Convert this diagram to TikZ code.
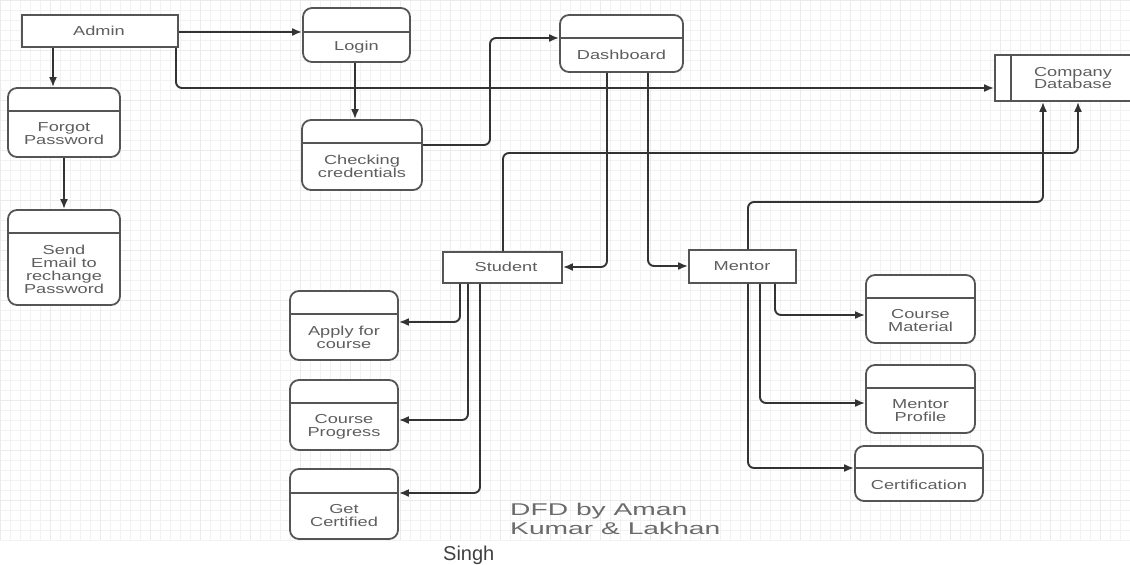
\documentclass[tikz,border=0pt]{standalone}
\usepackage{fontspec}
\setmainfont{Liberation Sans}
\newfontfamily\widefont[FakeStretch=1.4]{Liberation Sans}
\newfontfamily\capfont[FakeStretch=1.66]{Liberation Sans}
\usetikzlibrary{arrows.meta}
\definecolor{linec}{HTML}{333333}
\definecolor{boxc}{HTML}{555555}
\definecolor{txtc}{HTML}{5E5E5E}
\tikzset{
  x=1pt, y=-1pt,
  flow/.style={draw=linec, line width=1.9pt, rounded corners=6pt, -{Latex[length=10pt,width=8pt]}},
  entity/.style={draw=boxc, line width=1.8pt, fill=white, inner sep=0pt},
  proc/.style={draw=boxc, line width=1.8pt, fill=white, rounded corners=9pt, inner sep=0pt},
  lbl/.style={text=txtc, font=\widefont\fontsize{13}{13}\selectfont, align=center, inner sep=0pt},
}
\begin{document}
\begin{tikzpicture}
\useasboundingbox (0,0) rectangle (1130,565);
\fill[white] (0,0) rectangle (1130,565);
\clip (0,0) rectangle (1130,565);
% grid
\draw[black!5, line width=0.5pt, step=10pt] (0,0) grid (1130,540);
\draw[black!8, line width=0.6pt, step=50pt] (0,0) grid (1130,540);

% entities
\node[entity, minimum width=156, minimum height=32] (admin) at (100,31) {};
\node[lbl] (adminT) at (99,31) {Admin};
\node[entity, minimum width=119, minimum height=31] (student) at (502.5,267.5) {};
\node[lbl] (studentT) at (506,267) {Student};
\node[entity, minimum width=107, minimum height=33] (mentor) at (742.5,266.5) {};
\node[lbl] (mentorT) at (742,266) {Mentor};

% data store
\node[entity, minimum width=139, minimum height=46] (db) at (1064.5,78) {};
\draw[boxc, line width=1.8pt] (1011,55) -- (1011,101);
\node[lbl] (dbT) at (1073,78) {Company\\[-1pt]Database};

% processes: box + divider + text
\newcommand{\procbox}[7]{% name, x1, y1, x2, y2, divider y, text
  \node[proc, minimum width={#4-#2}, minimum height={#5-#3}] (#1) at ({(#2+#4)/2},{(#3+#5)/2}) {};
  \draw[boxc, line width=1.6pt] (#2,#6) -- (#4,#6);
  \node[lbl] (#1T) at ({(#2+#4)/2},{(#6+#5)/2}) {#7};
}
\procbox{login}{303}{8}{410}{62}{32}{Login}
\procbox{forgot}{8}{88}{120}{157}{111}{Forgot\\Password}
\procbox{sendmail}{8}{210}{120}{305}{233}{Send\\Email to\\rechange\\Password}
\procbox{check}{302}{120}{422}{190}{143}{Checking\\credentials}
\procbox{dash}{560}{15}{683}{72}{38}{Dashboard}
\procbox{apply}{290}{291}{398}{360}{314}{Apply for\\course}
\procbox{progress}{290}{380}{398}{450}{403}{Course\\Progress}
\procbox{getcert}{290}{469}{398}{539}{493}{Get\\Certified}
\procbox{material}{866}{275}{975}{343}{298}{Course\\Material}
\procbox{mprofile}{866}{365}{975}{433}{388}{Mentor\\Profile}
\procbox{certif}{855}{446}{983}{501}{468}{Certification}

% connectors
\draw[flow] (admin.east |- 0,32) -- (login.west |- 0,32);
\draw[flow] (admin.south -| 53,0) -- (forgot.north -| 53,0);
\draw[flow] (admin.south -| 176,0) -- (176,88) -- (db.west |- 0,88);
\draw[flow] (login.south -| 355,0) -- (check.north -| 355,0);
\draw[flow] (forgot.south -| 64,0) -- (sendmail.north -| 64,0);
\draw[flow] (check.east |- 0,145) -- (490,145) -- (490,38) -- (dash.west |- 0,38);
\draw[flow] (dash.south -| 607,0) -- (607,267) -- (student.east |- 0,267);
\draw[flow] (dash.south -| 648,0) -- (648,266) -- (mentor.west |- 0,266);
\draw[flow] (student.north -| 503,0) -- (503,153) -- (1078,153) -- (db.south -| 1078,0);
\draw[flow] (mentor.north -| 748,0) -- (748,202) -- (1043,202) -- (db.south -| 1043,0);
\draw[flow] (student.south -| 460,0) -- (460,322) -- (apply.east |- 0,322);
\draw[flow] (student.south -| 468,0) -- (468,420) -- (progress.east |- 0,420);
\draw[flow] (student.south -| 480,0) -- (480,493) -- (getcert.east |- 0,493);
\draw[flow] (mentor.south -| 775,0) -- (775,315) -- (material.west |- 0,315);
\draw[flow] (mentor.south -| 760,0) -- (760,403) -- (mprofile.west |- 0,403);
\draw[flow] (mentor.south -| 748,0) -- (748,468) -- (certif.west |- 0,468);

% caption
\node[text=black!58, font=\capfont\fontsize{17}{19}\selectfont, align=left, anchor=base west, inner sep=0pt] (cap) at (510,534) {DFD by Aman\\Kumar \& Lakhan};
\node[text=black!75, font=\fontsize{20}{20}\selectfont, anchor=base west, inner sep=0pt] (singh) at (443,560) {Singh};
\end{tikzpicture}
\end{document}
